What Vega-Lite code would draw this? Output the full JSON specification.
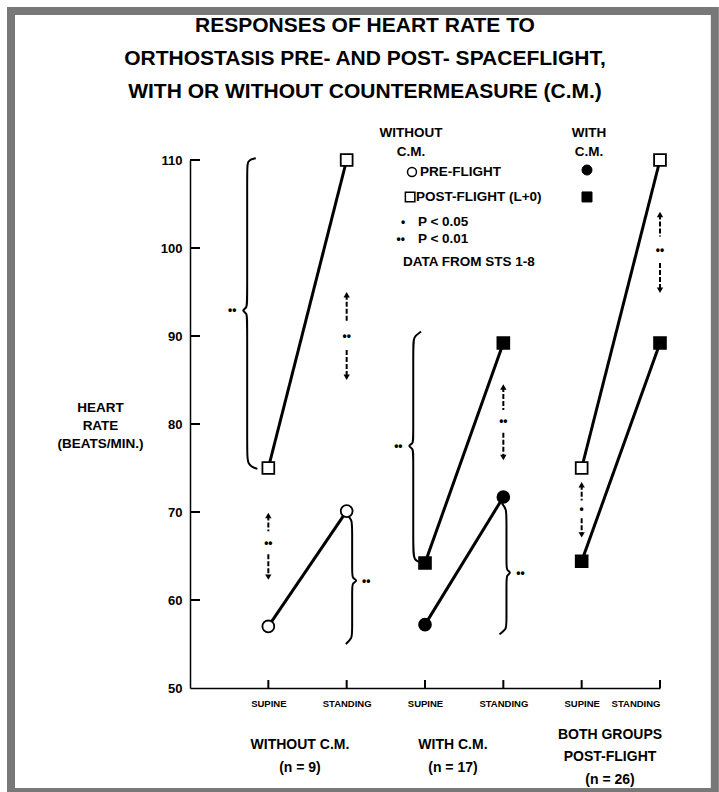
{
  "$schema": "https://vega.github.io/schema/vega-lite/v6.json",
  "width": 470,
  "height": 528,
  "autosize": {"type": "none"},
  "padding": {"left": 190, "top": 160, "right": 59, "bottom": 104},
  "background": "white",
  "config": {
    "view": {"stroke": null},
    "font": "Liberation Sans",
    "axis": {"grid": false, "ticks": false, "domainColor": "black", "labelColor": "black", "titleColor": "black", "domainWidth": 1.5}
  },
  "title": {
    "text": ["RESPONSES OF HEART RATE TO", "ORTHOSTASIS PRE- AND POST- SPACEFLIGHT,", "WITH OR WITHOUT COUNTERMEASURE (C.M.)"],
    "font": "Liberation Sans",
    "fontSize": 21,
    "fontWeight": "bold",
    "color": "black",
    "lineHeight": 33,
    "anchor": "middle",
    "dx": -60,
    "offset": -95
  },
  "datasets": {
    "hr": [
      {"series": "g1-pre", "phase": "Pre-flight", "cm": "Without C.M.", "posture": "Supine", "slot": 1, "hr": 57},
      {"series": "g1-pre", "phase": "Pre-flight", "cm": "Without C.M.", "posture": "Standing", "slot": 2, "hr": 70.1},
      {"series": "g1-post", "phase": "Post-flight", "cm": "Without C.M.", "posture": "Supine", "slot": 1, "hr": 75},
      {"series": "g1-post", "phase": "Post-flight", "cm": "Without C.M.", "posture": "Standing", "slot": 2, "hr": 110},
      {"series": "g2-pre", "phase": "Pre-flight", "cm": "With C.M.", "posture": "Supine", "slot": 3, "hr": 57.2},
      {"series": "g2-pre", "phase": "Pre-flight", "cm": "With C.M.", "posture": "Standing", "slot": 4, "hr": 71.7},
      {"series": "g2-post", "phase": "Post-flight", "cm": "With C.M.", "posture": "Supine", "slot": 3, "hr": 64.2},
      {"series": "g2-post", "phase": "Post-flight", "cm": "With C.M.", "posture": "Standing", "slot": 4, "hr": 89.2},
      {"series": "g3-without", "phase": "Post-flight", "cm": "Without C.M.", "posture": "Supine", "slot": 5, "hr": 75},
      {"series": "g3-without", "phase": "Post-flight", "cm": "Without C.M.", "posture": "Standing", "slot": 6, "hr": 110},
      {"series": "g3-with", "phase": "Post-flight", "cm": "With C.M.", "posture": "Supine", "slot": 5, "hr": 64.4},
      {"series": "g3-with", "phase": "Post-flight", "cm": "With C.M.", "posture": "Standing", "slot": 6, "hr": 89.2}
    ],
    "braces": [
      {"brace": "b1", "i": 0, "bx": 0.84, "by": 110.2}, {"brace": "b1", "i": 1, "bx": 0.73, "by": 110.0}, {"brace": "b1", "i": 2, "bx": 0.73, "by": 108.8}, {"brace": "b1", "i": 3, "bx": 0.73, "by": 94.0}, {"brace": "b1", "i": 4, "bx": 0.73, "by": 93.2}, {"brace": "b1", "i": 5, "bx": 0.655, "by": 92.9}, {"brace": "b1", "i": 6, "bx": 0.73, "by": 92.6}, {"brace": "b1", "i": 7, "bx": 0.73, "by": 91.8}, {"brace": "b1", "i": 8, "bx": 0.73, "by": 77.0}, {"brace": "b1", "i": 9, "bx": 0.73, "by": 75.3}, {"brace": "b1", "i": 10, "bx": 0.86, "by": 74.9},
      {"brace": "b2", "i": 0, "bx": 1.99, "by": 69.8}, {"brace": "b2", "i": 1, "bx": 2.07, "by": 69.1}, {"brace": "b2", "i": 2, "bx": 2.07, "by": 68.2}, {"brace": "b2", "i": 3, "bx": 2.07, "by": 63.0}, {"brace": "b2", "i": 4, "bx": 2.07, "by": 62.5}, {"brace": "b2", "i": 5, "bx": 2.145, "by": 62.2}, {"brace": "b2", "i": 6, "bx": 2.07, "by": 61.9}, {"brace": "b2", "i": 7, "bx": 2.07, "by": 61.4}, {"brace": "b2", "i": 8, "bx": 2.07, "by": 56.3}, {"brace": "b2", "i": 9, "bx": 2.07, "by": 55.7}, {"brace": "b2", "i": 10, "bx": 1.99, "by": 55.0},
      {"brace": "b3", "i": 0, "bx": 2.95, "by": 90.5}, {"brace": "b3", "i": 1, "bx": 2.85, "by": 89.9}, {"brace": "b3", "i": 2, "bx": 2.85, "by": 88.8}, {"brace": "b3", "i": 3, "bx": 2.85, "by": 78.3}, {"brace": "b3", "i": 4, "bx": 2.85, "by": 77.8}, {"brace": "b3", "i": 5, "bx": 2.775, "by": 77.5}, {"brace": "b3", "i": 6, "bx": 2.85, "by": 77.2}, {"brace": "b3", "i": 7, "bx": 2.85, "by": 76.6}, {"brace": "b3", "i": 8, "bx": 2.85, "by": 66.0}, {"brace": "b3", "i": 9, "bx": 2.85, "by": 64.5}, {"brace": "b3", "i": 10, "bx": 2.97, "by": 64.2},
      {"brace": "b4", "i": 0, "bx": 3.98, "by": 71.0}, {"brace": "b4", "i": 1, "bx": 4.04, "by": 70.3}, {"brace": "b4", "i": 2, "bx": 4.04, "by": 69.3}, {"brace": "b4", "i": 3, "bx": 4.04, "by": 63.9}, {"brace": "b4", "i": 4, "bx": 4.04, "by": 63.4}, {"brace": "b4", "i": 5, "bx": 4.105, "by": 63.1}, {"brace": "b4", "i": 6, "bx": 4.04, "by": 62.8}, {"brace": "b4", "i": 7, "bx": 4.04, "by": 62.2}, {"brace": "b4", "i": 8, "bx": 4.04, "by": 57.3}, {"brace": "b4", "i": 9, "bx": 4.04, "by": 56.7}, {"brace": "b4", "i": 10, "bx": 3.95, "by": 56.1}
    ],
    "arrows": [
      {"ax": 1, "top": 69.6, "g1": 67.8, "g2": 65.2, "bot": 62.6, "mid": 66.5, "sig": "••"},
      {"ax": 2, "top": 94.7, "g1": 91.6, "g2": 88.4, "bot": 85.3, "mid": 90.0, "sig": "••"},
      {"ax": 4, "top": 84.2, "g1": 81.6, "g2": 79.0, "bot": 76.2, "mid": 80.3, "sig": "••"},
      {"ax": 5, "top": 73.1, "g1": 71.3, "g2": 69.3, "bot": 67.4, "mid": 70.3, "sig": "•"},
      {"ax": 6, "top": 103.8, "g1": 101.3, "g2": 98.3, "bot": 95.2, "mid": 99.8, "sig": "••"}
    ],
    "yticks": [{"v": 60}, {"v": 70}, {"v": 80}, {"v": 90}, {"v": 100}, {"v": 110}],
    "xticks": [{"s": 1}, {"s": 2}, {"s": 3}, {"s": 4}, {"s": 5}, {"s": 6}],
    "one": [{}]
  },
  "layer": [
    {
      "data": {"name": "hr"},
      "mark": {"type": "line", "color": "black", "strokeWidth": 3},
      "encoding": {
        "x": {"field": "slot", "type": "quantitative",
          "scale": {"domain": [0, 6], "nice": false, "zero": false},
          "axis": {"values": [1, 2, 3, 4, 5, 6], "title": null, "labelExpr": "datum.value % 2 == 1 ? 'SUPINE' : 'STANDING'",
            "labelPadding": 10, "labelFontSize": 9.5, "labelFontWeight": "bold", "labelFont": "Liberation Sans"}},
        "y": {"field": "hr", "type": "quantitative",
          "scale": {"domain": [50, 110], "nice": false, "zero": false},
          "axis": {"values": [50, 60, 70, 80, 90, 100, 110], "labelPadding": 8, "labelFontSize": 13, "labelFontWeight": "bold", "labelFont": "Liberation Sans",
            "title": ["HEART", "RATE", "(BEATS/MIN.)"], "titleAngle": 0, "titleAlign": "center", "titleBaseline": "top", "titleX": -90, "titleY": 240,
            "titleFontSize": 13.5, "titleFontWeight": "bold", "titleFont": "Liberation Sans", "titleLineHeight": 18}},
        "detail": {"field": "series"}
      }
    },
    {
      "data": {"name": "one"},
      "mark": {"type": "rect", "fillOpacity": 0, "stroke": "#787878", "strokeWidth": 8},
      "encoding": {
        "x": {"datum": -2.285, "type": "quantitative"},
        "x2": {"datum": 6.70},
        "y": {"datum": 126.93, "type": "quantitative"},
        "y2": {"datum": 38.18}
      }
    },
    {
      "data": {"name": "yticks"},
      "mark": {"type": "tick", "orient": "horizontal", "color": "black", "size": 10, "thickness": 2, "opacity": 1},
      "encoding": {
        "x": {"datum": 0.064, "type": "quantitative"},
        "y": {"field": "v", "type": "quantitative"}
      }
    },
    {
      "data": {"name": "xticks"},
      "mark": {"type": "tick", "orient": "vertical", "color": "black", "size": 8, "thickness": 2, "opacity": 1},
      "encoding": {
        "x": {"field": "s", "type": "quantitative"},
        "y": {"datum": 50.45, "type": "quantitative"}
      }
    },
    {
      "data": {"name": "braces"},
      "mark": {"type": "line", "interpolate": "basis", "color": "black", "strokeWidth": 2},
      "encoding": {
        "x": {"field": "bx", "type": "quantitative"},
        "y": {"field": "by", "type": "quantitative"},
        "detail": {"field": "brace"},
        "order": {"field": "i"}
      }
    },
    {
      "data": {"name": "arrows"},
      "mark": {"type": "rule", "color": "black", "strokeWidth": 2, "strokeDash": [5, 2]},
      "encoding": {
        "x": {"field": "ax", "type": "quantitative"},
        "y": {"field": "top", "type": "quantitative"},
        "y2": {"field": "g1"}
      }
    },
    {
      "data": {"name": "arrows"},
      "mark": {"type": "rule", "color": "black", "strokeWidth": 2, "strokeDash": [5, 2]},
      "encoding": {
        "x": {"field": "ax", "type": "quantitative"},
        "y": {"field": "g2", "type": "quantitative"},
        "y2": {"field": "bot"}
      }
    },
    {
      "data": {"name": "arrows"},
      "mark": {"type": "point", "shape": "triangle-up", "filled": true, "color": "black", "size": 40, "opacity": 1},
      "encoding": {
        "x": {"field": "ax", "type": "quantitative"},
        "y": {"field": "top", "type": "quantitative"}
      }
    },
    {
      "data": {"name": "arrows"},
      "mark": {"type": "point", "shape": "triangle-down", "filled": true, "color": "black", "size": 40, "opacity": 1},
      "encoding": {
        "x": {"field": "ax", "type": "quantitative"},
        "y": {"field": "bot", "type": "quantitative"}
      }
    },
    {
      "data": {"name": "arrows"},
      "mark": {"type": "text", "font": "Liberation Sans", "fontWeight": "bold", "fontSize": 12, "align": "center", "baseline": "middle", "color": "black"},
      "encoding": {
        "x": {"field": "ax", "type": "quantitative"},
        "y": {"field": "mid", "type": "quantitative"},
        "text": {"field": "sig"}
      }
    },
    {
      "data": {"name": "hr"},
      "mark": {"type": "point", "filled": true, "size": 140, "stroke": "black", "strokeWidth": 1.8, "opacity": 1},
      "encoding": {
        "x": {"field": "slot", "type": "quantitative"},
        "y": {"field": "hr", "type": "quantitative"},
        "shape": {"field": "phase", "type": "nominal", "scale": {"domain": ["Pre-flight", "Post-flight"], "range": ["circle", "square"]}, "legend": null},
        "fill": {"field": "cm", "type": "nominal", "scale": {"domain": ["Without C.M.", "With C.M."], "range": ["white", "black"]}, "legend": null}
      }
    },
    {"data": {"name": "one"}, "mark": {"type": "text", "text": "••", "font": "Liberation Sans", "fontWeight": "bold", "fontSize": 12, "align": "center", "baseline": "middle"},
     "encoding": {"x": {"datum": 0.54, "type": "quantitative"}, "y": {"datum": 92.9, "type": "quantitative"}}},
    {"data": {"name": "one"}, "mark": {"type": "text", "text": "••", "font": "Liberation Sans", "fontWeight": "bold", "fontSize": 12, "align": "center", "baseline": "middle"},
     "encoding": {"x": {"datum": 2.25, "type": "quantitative"}, "y": {"datum": 62.2, "type": "quantitative"}}},
    {"data": {"name": "one"}, "mark": {"type": "text", "text": "••", "font": "Liberation Sans", "fontWeight": "bold", "fontSize": 12, "align": "center", "baseline": "middle"},
     "encoding": {"x": {"datum": 2.66, "type": "quantitative"}, "y": {"datum": 77.5, "type": "quantitative"}}},
    {"data": {"name": "one"}, "mark": {"type": "text", "text": "••", "font": "Liberation Sans", "fontWeight": "bold", "fontSize": 12, "align": "center", "baseline": "middle"},
     "encoding": {"x": {"datum": 4.22, "type": "quantitative"}, "y": {"datum": 63.1, "type": "quantitative"}}},
    {"data": {"name": "one"}, "mark": {"type": "text", "text": ["WITHOUT", "C.M."], "lineHeight": 19, "font": "Liberation Sans", "fontWeight": "bold", "fontSize": 13.5, "align": "center", "baseline": "middle"},
     "encoding": {"x": {"datum": 2.82, "type": "quantitative"}, "y": {"datum": 113.07, "type": "quantitative"}}},
    {"data": {"name": "one"}, "mark": {"type": "text", "text": ["WITH", "C.M."], "lineHeight": 19, "font": "Liberation Sans", "fontWeight": "bold", "fontSize": 13.5, "align": "center", "baseline": "middle"},
     "encoding": {"x": {"datum": 5.094, "type": "quantitative"}, "y": {"datum": 113.07, "type": "quantitative"}}},
    {"data": {"name": "one"}, "mark": {"type": "point", "shape": "circle", "filled": true, "fill": "white", "stroke": "black", "strokeWidth": 1.5, "size": 80, "opacity": 1},
     "encoding": {"x": {"datum": 2.834, "type": "quantitative"}, "y": {"datum": 108.64, "type": "quantitative"}}},
    {"data": {"name": "one"}, "mark": {"type": "point", "shape": "square", "filled": true, "fill": "white", "stroke": "black", "strokeWidth": 1.5, "size": 90, "opacity": 1},
     "encoding": {"x": {"datum": 2.81, "type": "quantitative"}, "y": {"datum": 105.8, "type": "quantitative"}}},
    {"data": {"name": "one"}, "mark": {"type": "point", "shape": "circle", "filled": true, "fill": "black", "stroke": "black", "strokeWidth": 1, "size": 100, "opacity": 1},
     "encoding": {"x": {"datum": 5.068, "type": "quantitative"}, "y": {"datum": 108.86, "type": "quantitative"}}},
    {"data": {"name": "one"}, "mark": {"type": "point", "shape": "square", "filled": true, "fill": "black", "stroke": "black", "strokeWidth": 1, "size": 100, "opacity": 1},
     "encoding": {"x": {"datum": 5.068, "type": "quantitative"}, "y": {"datum": 105.8, "type": "quantitative"}}},
    {"data": {"name": "one"}, "mark": {"type": "text", "text": "PRE-FLIGHT", "font": "Liberation Sans", "fontWeight": "bold", "fontSize": 13.5, "align": "left", "baseline": "middle"},
     "encoding": {"x": {"datum": 2.936, "type": "quantitative"}, "y": {"datum": 108.64, "type": "quantitative"}}},
    {"data": {"name": "one"}, "mark": {"type": "text", "text": "POST-FLIGHT (L+0)", "font": "Liberation Sans", "fontWeight": "bold", "fontSize": 13.5, "align": "left", "baseline": "middle"},
     "encoding": {"x": {"datum": 2.885, "type": "quantitative"}, "y": {"datum": 105.8, "type": "quantitative"}}},
    {"data": {"name": "one"}, "mark": {"type": "text", "text": "•", "font": "Liberation Sans", "fontWeight": "bold", "fontSize": 12, "align": "center", "baseline": "middle"},
     "encoding": {"x": {"datum": 2.72, "type": "quantitative"}, "y": {"datum": 102.95, "type": "quantitative"}}},
    {"data": {"name": "one"}, "mark": {"type": "text", "text": "P < 0.05", "font": "Liberation Sans", "fontWeight": "bold", "fontSize": 13.5, "align": "left", "baseline": "middle"},
     "encoding": {"x": {"datum": 2.91, "type": "quantitative"}, "y": {"datum": 102.95, "type": "quantitative"}}},
    {"data": {"name": "one"}, "mark": {"type": "text", "text": "••", "font": "Liberation Sans", "fontWeight": "bold", "fontSize": 12, "align": "center", "baseline": "middle"},
     "encoding": {"x": {"datum": 2.69, "type": "quantitative"}, "y": {"datum": 101.0, "type": "quantitative"}}},
    {"data": {"name": "one"}, "mark": {"type": "text", "text": "P < 0.01", "font": "Liberation Sans", "fontWeight": "bold", "fontSize": 13.5, "align": "left", "baseline": "middle"},
     "encoding": {"x": {"datum": 2.91, "type": "quantitative"}, "y": {"datum": 101.0, "type": "quantitative"}}},
    {"data": {"name": "one"}, "mark": {"type": "text", "text": "DATA FROM STS 1-8", "font": "Liberation Sans", "fontWeight": "bold", "fontSize": 13.5, "align": "left", "baseline": "middle"},
     "encoding": {"x": {"datum": 2.72, "type": "quantitative"}, "y": {"datum": 98.4, "type": "quantitative"}}},
    {"data": {"name": "one"}, "mark": {"type": "text", "text": ["WITHOUT C.M.", "(n = 9)"], "lineHeight": 23, "font": "Liberation Sans", "fontWeight": "bold", "fontSize": 14, "align": "center", "baseline": "middle"},
     "encoding": {"x": {"datum": 1.404, "type": "quantitative"}, "y": {"datum": 43.52, "type": "quantitative"}}},
    {"data": {"name": "one"}, "mark": {"type": "text", "text": ["WITH C.M.", "(n = 17)"], "lineHeight": 23, "font": "Liberation Sans", "fontWeight": "bold", "fontSize": 14, "align": "center", "baseline": "middle"},
     "encoding": {"x": {"datum": 3.357, "type": "quantitative"}, "y": {"datum": 43.52, "type": "quantitative"}}},
    {"data": {"name": "one"}, "mark": {"type": "text", "text": ["BOTH GROUPS", "POST-FLIGHT", "(n = 26)"], "lineHeight": 22.5, "font": "Liberation Sans", "fontWeight": "bold", "fontSize": 14, "align": "center", "baseline": "middle"},
     "encoding": {"x": {"datum": 5.362, "type": "quantitative"}, "y": {"datum": 44.66, "type": "quantitative"}}}
  ]
}
